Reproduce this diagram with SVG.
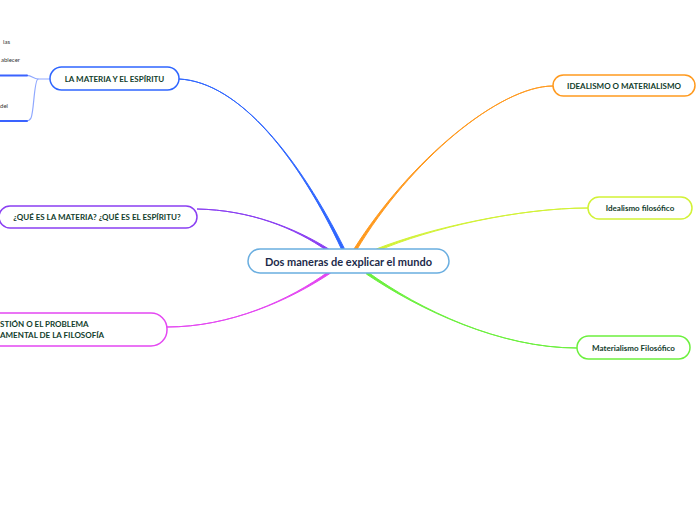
<svg xmlns="http://www.w3.org/2000/svg" width="696" height="520" viewBox="0 0 696 520">
<style>
.node{fill:#fff;stroke-width:1.5}
.t{font-family:Lato,"Open Sans","Liberation Sans",sans-serif;font-weight:bold;fill:#123d2c;font-size:8px;text-anchor:middle;dominant-baseline:central}
.c{font-family:Lato,"Open Sans","Liberation Sans",sans-serif;font-weight:bold;fill:#1c2a4a;font-size:11px;text-anchor:middle;dominant-baseline:central}
.s{font-family:Lato,"Open Sans","Liberation Sans",sans-serif;fill:#333;font-size:6px;text-anchor:end}
.ln{fill:none;stroke-linecap:round}
.tp{stroke-width:1;stroke-linejoin:round}
</style>
<rect width="696" height="520" fill="#fff"/>
<g id="connectors">
  <path d="M179,79 C240,82 300,160 344.3,248.4 L341.7,249.6 C300,160 240,82 179,79 Z" class="tp" fill="#2f66ff" stroke="#2f66ff"/>
  <path d="M197,209 C250,210 295,228 328.7,249 L327.3,251 C295,228 250,210 197,209 Z" class="tp" fill="#8a3ff2" stroke="#8a3ff2"/>
  <path d="M167,327 C230,327 290,300 330.7,273 L329.3,271 C290,300 230,327 167,327 Z" class="tp" fill="#e447f2" stroke="#e447f2"/>
  <path d="M553,86 C500,86 410,160 356.2,250.7 L353.8,249.3 C410,160 500,86 553,86 Z" class="tp" fill="#ff9a1f" stroke="#ff9a1f"/>
  <path d="M588,208 C520,208 430,228 377.5,251.1 L376.5,248.9 C430,228 520,208 588,208 Z" class="tp" fill="#d2f236" stroke="#d2f236"/>
  <path d="M577,348 C500,348 420,310 367.7,272 L366.3,274 C420,310 500,348 577,348 Z" class="tp" fill="#6cf03e" stroke="#6cf03e"/>
  <path d="M50,79 L38,79 C33,79 32,75 26,75.5" class="ln" stroke="#8fa8ff" stroke-width="1.2"/>
  <path d="M38,79 C34,80 34,112 31,118 C30,120 28,121 26,121" class="ln" stroke="#8fa8ff" stroke-width="1.2"/>
  <path d="M-2,75.5 L27,75.5" class="ln" stroke="#3a63ff" stroke-width="2"/>
  <path d="M-2,121 L27,121" class="ln" stroke="#3a63ff" stroke-width="2"/>
</g>
<g id="sub1">
  <text class="s" x="10" y="44">las</text>
  <text class="s" x="20" y="62">ablecer</text>
</g>
<g id="sub2">
  <text class="s" x="8" y="108">del</text>
</g>
<g id="center">
  <rect class="node" x="248" y="249" width="201" height="24" rx="12" stroke="#6aaee0"/>
  <text class="c" x="348.5" y="261.5">Dos maneras de explicar el mundo</text>
</g>
<g id="n-materia">
  <rect class="node" x="50" y="67" width="129" height="23" rx="11.5" stroke="#2f66ff"/>
  <text class="t" x="114.5" y="78.5">LA MATERIA Y EL ESPÍRITU</text>
</g>
<g id="n-que">
  <rect class="node" x="-1" y="206" width="198" height="22" rx="11" stroke="#8a3ff2"/>
  <text class="t" x="97" y="217">¿QUÉ ES LA MATERIA? ¿QUÉ ES EL ESPÍRITU?</text>
</g>
<g id="n-cuestion">
  <rect class="node" x="-40" y="313" width="207" height="33" rx="16" stroke="#e447f2"/>
  <text class="t" x="0" y="324" style="text-anchor:start">STIÓN O EL PROBLEMA</text>
  <text class="t" x="0" y="335" style="text-anchor:start">AMENTAL DE LA FILOSOFÍA</text>
</g>
<g id="n-idealismo-o">
  <rect class="node" x="553" y="75" width="142" height="21" rx="10.5" stroke="#ff9a1f"/>
  <text class="t" x="624" y="85.5">IDEALISMO O MATERIALISMO</text>
</g>
<g id="n-idealismo">
  <rect class="node" x="588" y="197" width="104" height="22" rx="11" stroke="#d2f236"/>
  <text class="t" x="640" y="208">Idealismo filosófico</text>
</g>
<g id="n-materialismo">
  <rect class="node" x="577" y="336" width="113" height="23" rx="11.5" stroke="#6cf03e"/>
  <text class="t" x="633.5" y="347.5">Materialismo Filosófico</text>
</g>
</svg>
